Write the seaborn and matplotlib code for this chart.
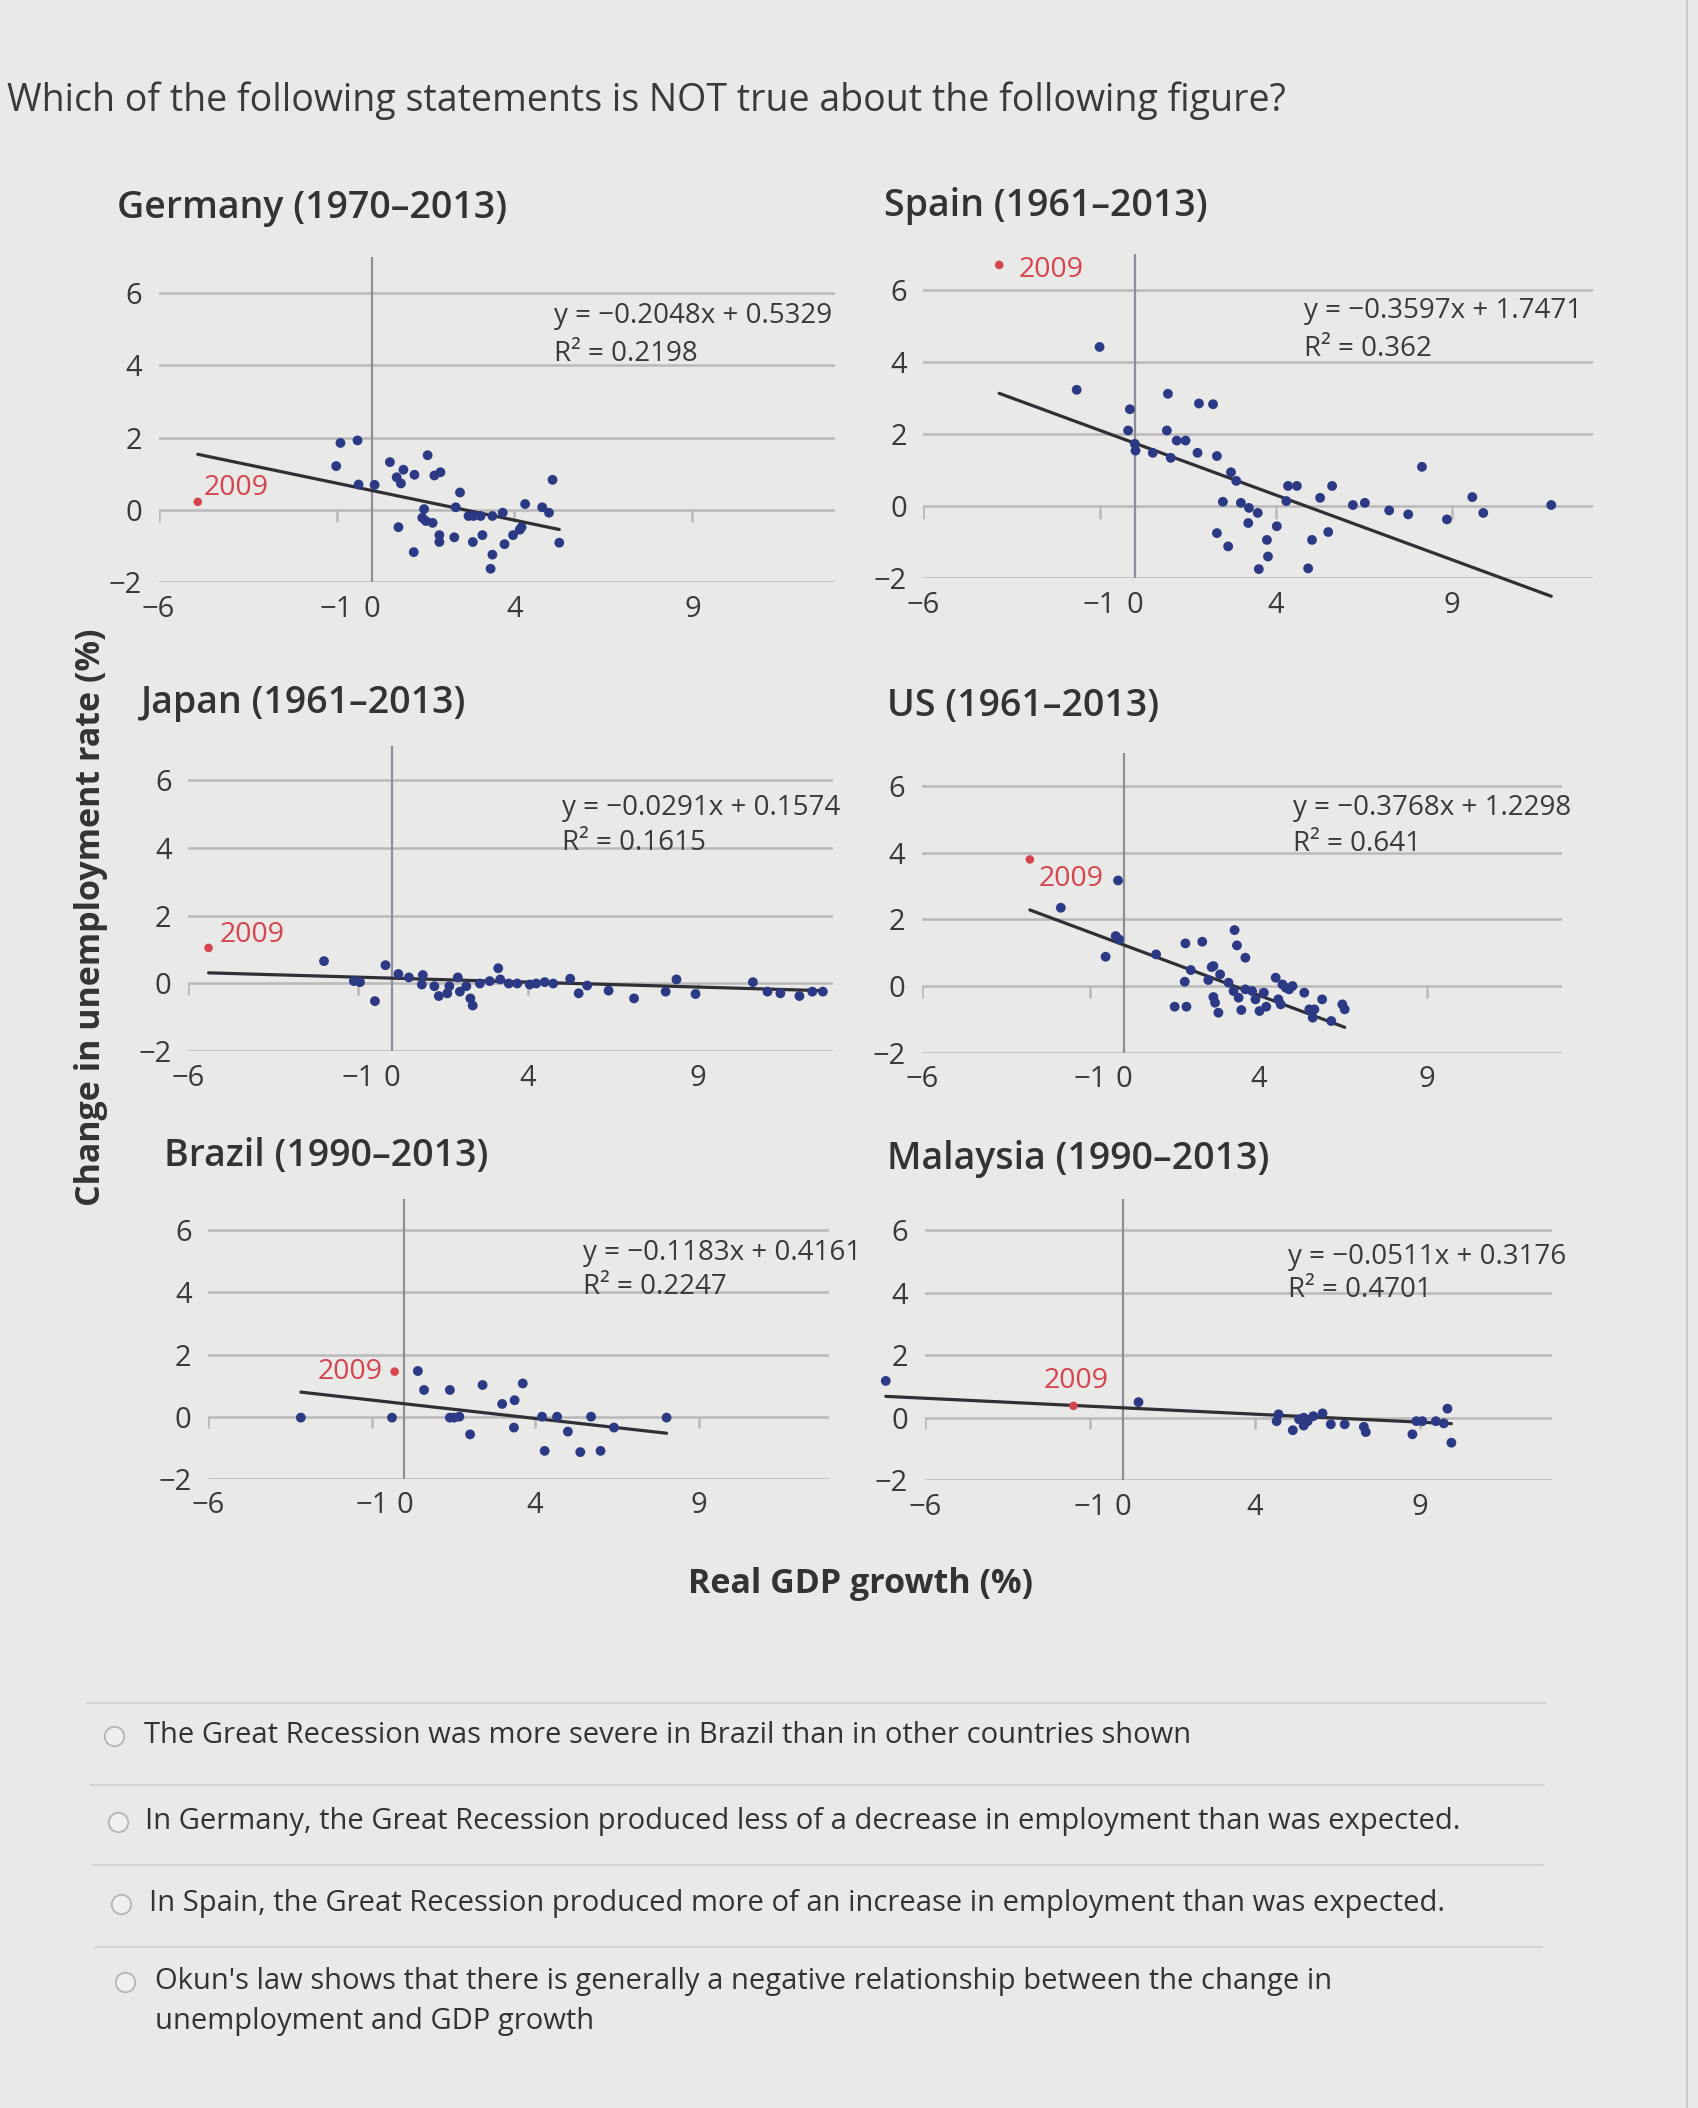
import numpy as np
import pandas as pd
import matplotlib
matplotlib.use("Agg")
import matplotlib.pyplot as plt
import seaborn as sns
from matplotlib.lines import Line2D

# ---------------- data ----------------
germany_x = [-0.89, -0.41, -1.01, -0.38, 0.07, 0.50, 0.88, 0.69, 0.81, 1.19, 1.56, 1.75, 1.92, 2.47,
             2.35, 1.46, 1.41, 1.51, 1.70, 0.74, 1.17, 1.89, 1.89, 2.31, 2.83, 3.10, 2.85, 3.05,
             3.38, 3.67, 3.38, 3.33, 3.72, 3.96, 4.15, 4.30, 4.78, 4.97, 5.07, 5.26, 4.20, 2.71]
germany_y = [1.85, 1.92, 1.21, 0.70, 0.69, 1.32, 1.11, 0.90, 0.73, 0.97, 1.51, 0.95, 1.04, 0.48,
             0.07, 0.02, -0.22, -0.31, -0.36, -0.48, -1.17, -0.70, -0.89, -0.76, -0.89, -0.70, -0.17, -0.17,
             -0.17, -0.08, -1.24, -1.63, -0.95, -0.70, -0.55, 0.16, 0.07, -0.08, 0.83, -0.91, -0.48, -0.17]
germany_2009 = (-4.9, 0.22)

spain_x = [-1.00, -1.65, -0.14, -0.19, 0.00, 0.02, 0.51, 0.94, 0.91, 1.19, 1.44, 1.02, 1.78, 1.82,
           2.22, 2.33, 2.73, 2.88, 2.50, 3.01, 3.24, 3.49, 3.22, 4.03, 2.33, 2.65, 3.75, 3.78,
           3.52, 4.92, 5.03, 5.49, 4.30, 4.35, 4.60, 5.26, 5.60, 6.19, 6.53, 7.22, 7.76, 8.15,
           8.86, 9.58, 9.89, 11.82]
spain_y = [4.42, 3.23, 2.69, 2.10, 1.73, 1.54, 1.48, 3.12, 2.10, 1.82, 1.82, 1.34, 1.48, 2.85,
           2.83, 1.39, 0.94, 0.70, 0.12, 0.09, -0.05, -0.19, -0.47, -0.56, -0.75, -1.12, -0.94, -1.40,
           -1.75, -1.73, -0.94, -0.72, 0.14, 0.56, 0.56, 0.23, 0.56, 0.03, 0.09, -0.12, -0.23, 1.09,
           -0.37, 0.25, -0.19, 0.03]
spain_2009 = (-3.85, 6.7)

japan_x = [-2.00, -0.94, -1.12, -0.50, -0.19, 0.19, 0.50, 0.91, 0.88, 1.38, 1.63, 1.94, 2.00, 2.31,
           2.38, 2.59, 2.88, 3.13, 3.19, 3.44, 4.06, 4.25, 4.50, 4.75, 5.25, 5.50, 5.75, 6.38,
           7.13, 8.06, 8.38, 8.94, 10.63, 11.06, 11.44, 12.00, 12.38, 12.69, 1.25, 2.19, 3.69, 1.69]
japan_y = [0.66, 0.04, 0.07, -0.52, 0.54, 0.28, 0.18, 0.25, -0.03, -0.37, -0.29, 0.18, -0.24, -0.44,
           -0.65, 0.00, 0.07, 0.45, 0.12, 0.00, -0.03, 0.00, 0.04, 0.00, 0.14, -0.29, -0.06, -0.21,
           -0.44, -0.24, 0.12, -0.31, 0.04, -0.24, -0.29, -0.37, -0.24, -0.24, -0.08, -0.08, 0.00, -0.08]
japan_2009 = (-5.4, 1.05)

us_x = [-0.18, -1.88, -0.25, -0.15, -0.55, 0.95, 1.82, 2.32, 3.28, 3.35, 3.60, 1.98, 1.80, 2.50,
        2.60, 2.85, 3.10, 3.25, 3.40, 3.60, 3.80, 3.90, 4.15, 4.50, 4.70, 4.90, 5.00, 4.58,
        4.65, 5.35, 5.50, 5.65, 5.60, 5.88, 6.15, 6.48, 6.55, 2.65, 2.70, 2.80, 1.50, 1.85,
        3.48, 4.02, 4.22, 2.65, 4.80]
us_y = [3.17, 2.35, 1.50, 1.40, 0.88, 0.95, 1.28, 1.33, 1.68, 1.22, 0.85, 0.48, 0.13, 0.18,
        0.57, 0.35, 0.10, -0.15, -0.35, -0.10, -0.15, -0.40, -0.20, 0.25, 0.05, -0.10, 0.00, -0.40,
        -0.55, -0.20, -0.70, -0.70, -0.95, -0.40, -1.05, -0.55, -0.70, -0.33, -0.50, -0.80, -0.62, -0.62,
        -0.72, -0.75, -0.62, 0.60, -0.05]
us_2009 = (-2.8, 3.8)

brazil_x = [-3.17, -0.38, 0.41, 0.60, 1.39, 1.39, 1.68, 2.01, 2.39, 2.99, 3.37, 3.62, 3.35, 4.21,
            4.67, 5.00, 4.29, 5.38, 6.00, 5.71, 6.41, 8.02, 1.52]
brazil_y = [-0.03, -0.03, 1.47, 0.86, 0.86, -0.03, 0.00, -0.57, 1.02, 0.41, 0.53, 1.07, -0.35, 0.00,
            0.00, -0.48, -1.10, -1.14, -1.10, 0.00, -0.35, -0.03, -0.03]
brazil_2009 = (-0.3, 1.45)

malaysia_x = [-7.18, 0.47, 4.71, 4.65, 5.14, 5.33, 5.47, 5.59, 5.76, 6.04, 6.29, 6.71, 7.35, 7.29,
              8.76, 8.88, 9.06, 9.47, 9.71, 9.82, 9.94, 5.47]
malaysia_y = [1.18, 0.50, 0.11, -0.11, -0.40, -0.05, -0.25, -0.11, 0.05, 0.14, -0.21, -0.21, -0.46, -0.29,
              -0.53, -0.11, -0.11, -0.11, -0.18, 0.29, -0.80, 0.00]
malaysia_2009 = (-1.5, 0.38)

titles = ["Germany (1970–2013)", "Spain (1961–2013)", "Japan (1961–2013)",
          "US (1961–2013)", "Brazil (1990–2013)", "Malaysia (1990–2013)"]
slopes = [-0.2048, -0.3597, -0.0291, -0.3768, -0.1183, -0.0511]
intercepts = [0.5329, 1.7471, 0.1574, 1.2298, 0.4161, 0.3176]
eq_texts = ["y = −0.2048x + 0.5329", "y = −0.3597x + 1.7471", "y = −0.0291x + 0.1574",
            "y = −0.3768x + 1.2298", "y = −0.1183x + 0.4161", "y = −0.0511x + 0.3176"]
r2_texts = ["R² = 0.2198", "R² = 0.362", "R² = 0.1615", "R² = 0.641", "R² = 0.2247", "R² = 0.4701"]

x_ticks = [-6, -1, 0, 4, 9]
x_tick_labels = ["−6", "−1", "0", "4", "9"]
y_ticks = [-2, 0, 2, 4, 6]
y_tick_labels = ["−2", "0", "2", "4", "6"]

question = "Which of the following statements is NOT true about the following figure?"
options = ["The Great Recession was more severe in Brazil than in other countries shown",
           "In Germany, the Great Recession produced less of a decrease in employment than was expected.",
           "In Spain, the Great Recession produced more of an increase in employment than was expected.",
           "Okun's law shows that there is generally a negative relationship between the change in",
           "unemployment and GDP growth"]

# ---------------- style ----------------
sns.set_theme(style="white")
plt.rcParams["font.family"] = ["Open Sans", "DejaVu Sans"]

BG = "#e9e9e7"
DOT = "#2c3a86"
RED = "#d4454f"
GRID = "#b9b9b9"
TXT = "#3a3a3a"

W, H = 1699, 2108
fig = plt.figure(figsize=(W / 100, H / 100), dpi=100, facecolor=BG)


def fx(d):
    return d / 1264.0


def fy(d):
    return 1 - d / 1568.0


# axes rectangles in reference display coords (left, right, top, bottom)
rects = [(118, 621, 191, 433), (687, 1185, 189, 430),
         (140, 620, 555, 782), (686, 1162, 560, 783),
         (155, 617, 892, 1100), (688, 1155, 892, 1101)]
title_pos = [(87, 155), (658, 153), (105, 523), (660, 525), (122, 860), (660, 862)]
eq_pos = [(5.1, 5.35, 4.3), (4.8, 5.42, 4.37), (5.0, 5.17, 4.14),
          (5.0, 5.35, 4.26), (5.45, 5.26, 4.18), (5.0, 5.14, 4.1)]
lab_off = [((4, 10), "left"), ((14, -4), "left"), ((8, 9), "left"),
           ((6, -14), "left"), ((-9, 0), "right"), ((2, 18), "center")]

xs = [germany_x, spain_x, japan_x, us_x, brazil_x, malaysia_x]
ys = [germany_y, spain_y, japan_y, us_y, brazil_y, malaysia_y]
reds = [germany_2009, spain_2009, japan_2009, us_2009, brazil_2009, malaysia_2009]

for i in range(6):
    l, r, t, b = rects[i]
    ax = fig.add_axes([fx(l), fy(b), fx(r) - fx(l), fy(t) - fy(b)])
    ax.patch.set_alpha(0)
    ax.set_xlim(-6, 13)
    ax.set_ylim(-2, 7)
    for s in ax.spines.values():
        s.set_visible(False)
    ax.set_yticks(y_ticks)
    ax.set_yticklabels(y_tick_labels)
    ax.set_xticks(x_ticks)
    ax.set_xticklabels(x_tick_labels)
    ax.tick_params(axis="both", length=0, labelsize=21, labelcolor=TXT)
    ax.tick_params(axis="x", pad=9)
    ax.tick_params(axis="y", pad=12)
    ax.yaxis.grid(True, color=GRID, lw=1.8)
    ax.xaxis.grid(False)
    ax.set_axisbelow(True)
    ax.axvline(0, color="#8e8e98", lw=1.6, zorder=1)
    ax.vlines([-6, -1, 4, 9], -0.35, 0, color=GRID, lw=1.8, zorder=1)

    df = pd.DataFrame({"gdp": xs[i], "unemp": ys[i]})
    sns.scatterplot(data=df, x="gdp", y="unemp", ax=ax, color=DOT, s=50,
                    edgecolor="none", zorder=3, clip_on=False)
    rx, ry = reds[i]
    sns.scatterplot(x=[rx], y=[ry], ax=ax, color=RED, s=38, edgecolor="none",
                    zorder=4, clip_on=False)
    allx = np.array(xs[i] + [rx])
    lx = np.array([allx.min(), allx.max()])
    ly = slopes[i] * lx + intercepts[i]
    ax.plot(lx, ly, color="#2f2f36", lw=2.3, zorder=2, clip_on=False)
    ax.set_xlabel("")
    ax.set_ylabel("")

    (ox, oy), ha = lab_off[i]
    ax.annotate("2009", (rx, ry), xytext=(ox, oy), textcoords="offset points",
                ha=ha, va="center", color=RED, fontsize=20.5)
    ex, ey1, ey2 = eq_pos[i]
    ax.text(ex, ey1, eq_texts[i], fontsize=20, color=TXT, va="center", ha="left")
    ax.text(ex, ey2, r2_texts[i], fontsize=20, color=TXT, va="center", ha="left")

    tx, ty = title_pos[i]
    fig.text(fx(tx), fy(ty), titles[i], fontsize=27, fontweight="semibold",
             color="#333333", ha="left", va="center")

fig.text(fx(68), fy(682), "Change in unemployment rate (%)", rotation=90,
         fontsize=24.5, fontweight="bold", color="#333333", ha="center", va="center")
fig.text(fx(640), fy(1178), "Real GDP growth (%)", fontsize=24.5, fontweight="bold",
         color="#333333", ha="center", va="center")
fig.text(fx(5), fy(75), question, fontsize=27, color="#3a3a3a", ha="left", va="center")

# answer options
opt_y = [1291, 1355, 1416, 1474, 1504]
opt_x = [107, 108, 111, 115, 115]
circ_x = [85, 88, 90, 93]
sep_y = [1267, 1328, 1387, 1448]
for k in range(4):
    fig.add_artist(Line2D([fx(65 + 2 * k), fx(1150 - k)], [fy(sep_y[k])] * 2,
                          color="#cfcfcf", lw=1.2, transform=fig.transFigure))
    fig.add_artist(Line2D([fx(circ_x[k])], [fy(opt_y[k])], marker="o", ms=14,
                          mfc="#efefef", mec="#b5b5b5", mew=1.3, transform=fig.transFigure))
for k in range(5):
    fig.text(fx(opt_x[k]), fy(opt_y[k]), options[k], fontsize=21, color="#333333",
             ha="left", va="center")

# right border of the card
fig.add_artist(Line2D([fx(1255), fx(1255)], [0, 1], color="#c8c8c8", lw=1.5,
                      transform=fig.transFigure))

fig.savefig("out.png", dpi=100, facecolor=BG)
